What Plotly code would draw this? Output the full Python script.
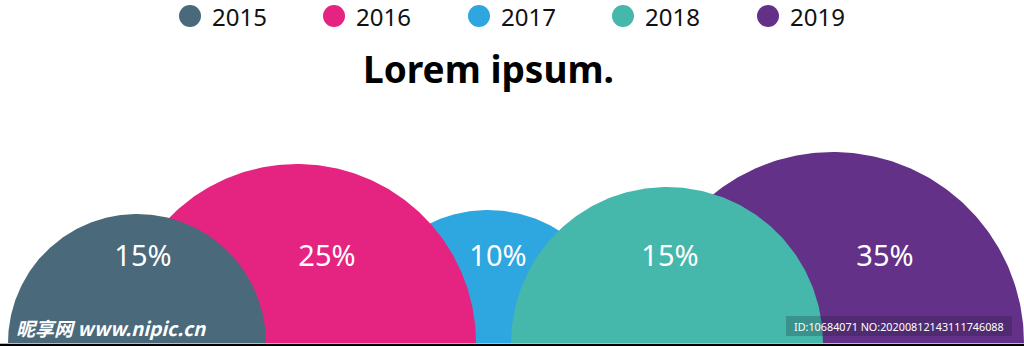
import numpy as np
import plotly.graph_objects as go

# ---- data ----
years = ["2015", "2016", "2017", "2018", "2019"]
values = [15, 25, 10, 15, 35]
colors = ["#4A697A", "#E52380", "#2EA6DF", "#46B7AB", "#633288"]
title_text = "Lorem ipsum."

# ---- layout geometry (pixel-like data units) ----
centers = [137, 297, 488, 667, 833]
radii = [129, 179, 133, 156, 191]
label_x = [143, 327, 498, 670, 885]
label_y = 84
draw_order = [2, 1, 0, 4, 3]  # back to front

W, H = 1024, 346
BASE = 343  # baseline in screen pixels from top

fig = go.Figure()
theta = np.linspace(0, np.pi, 181)
for i in draw_order:
    xs = centers[i] + radii[i] * np.cos(theta)
    ys = radii[i] * np.sin(theta)
    fig.add_trace(go.Scatter(
        x=xs, y=ys, mode="lines", fill="toself",
        fillcolor=colors[i], line=dict(width=0, color=colors[i]),
        name=years[i], showlegend=False, hoverinfo="skip"))

# value labels
fig.add_trace(go.Scatter(
    x=label_x, y=[label_y] * len(values), mode="text",
    text=[f"{v}%" for v in values],
    textfont=dict(family="Noto Sans", size=29, color="white"),
    showlegend=False, hoverinfo="skip"))

shapes = []
annotations = []
# custom legend
leg_cx = [190, 334, 479, 623, 768]
for i, yr in enumerate(years):
    shapes.append(dict(type="circle", xref="x", yref="y",
                       x0=leg_cx[i] - 11, x1=leg_cx[i] + 11,
                       y0=BASE - 16 - 11, y1=BASE - 16 + 11,
                       fillcolor=colors[i], line=dict(width=0)))
    annotations.append(dict(x=leg_cx[i] + 21, y=BASE - 16, xref="x", yref="y",
                            text=yr, showarrow=False, xanchor="left", yanchor="middle",
                            borderpad=0,
                            font=dict(family="Noto Sans", size=24, color="#111111")))

# title
annotations.append(dict(x=488, y=BASE - 68, xref="x", yref="y", text=f"<b>{title_text}</b>",
                        showarrow=False, xanchor="center", yanchor="middle",
                        font=dict(family="Noto Sans", size=37, color="#000000")))

# baseline
shapes.append(dict(type="line", xref="x", yref="y", x0=0, x1=W, y0=-0.5, y1=-0.5,
                   line=dict(color="#BBBBBB", width=1)))
shapes.append(dict(type="line", xref="x", yref="y", x0=0, x1=W, y0=-2, y1=-2,
                   line=dict(color="#000000", width=2)))

# watermarks
annotations.append(dict(x=14, y=BASE - 327, xref="x", yref="y",
                        text="<b><i>昵享网 www.nipic.cn</i></b>", showarrow=False,
                        xanchor="left", yanchor="middle",
                        font=dict(family="Noto Sans CJK SC", size=19, color="white")))
shapes.append(dict(type="rect", xref="x", yref="y", x0=786, x1=1012,
                   y0=BASE - 336, y1=BASE - 316, fillcolor="rgba(20,20,30,0.22)",
                   line=dict(width=0)))
annotations.append(dict(x=899, y=BASE - 326, xref="x", yref="y",
                        text="ID:10684071 NO:20200812143111746088", showarrow=False,
                        xanchor="center", yanchor="middle",
                        font=dict(family="Noto Sans", size=10.8, color="white")))

fig.update_layout(
    width=W, height=H, margin=dict(l=0, r=0, t=0, b=0),
    paper_bgcolor="white", plot_bgcolor="white",
    xaxis=dict(range=[0, W], visible=False, fixedrange=True),
    yaxis=dict(range=[BASE - H, BASE], visible=False, fixedrange=True),
    shapes=shapes, annotations=annotations, showlegend=False,
)
fig.write_html("out.html", config={"displayModeBar": False})
